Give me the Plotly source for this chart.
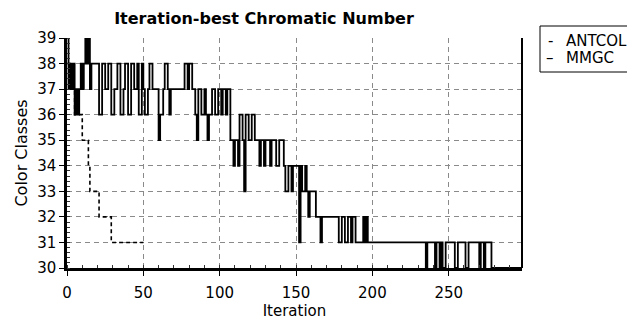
import plotly.graph_objects as go

# ---------------- data ----------------
title_text = "Iteration-best Chromatic Number"
x_label = "Iteration"
y_label = "Color Classes"
series_names = ["ANTCOL", "MMGC"]

antcol = [38, 38, 37, 37, 37, 36, 36, 36, 36, 36,
          35, 35, 35, 35, 34, 33, 33, 33, 33, 33,
          33, 32, 32, 32, 32, 32, 32, 32, 32, 31,
          31, 31, 31, 31, 31, 31, 31, 31, 31, 31,
          31, 31, 31, 31, 31, 31, 31, 31, 31, 31, 31]

mmgc = [39, 37, 38, 37, 38, 36, 37, 36, 37, 38,
        37, 38, 39, 38, 39, 37, 38, 38, 38, 38,
        38, 36, 36, 38, 38, 37, 37, 38, 38, 36,
        36, 37, 37, 38, 38, 36, 36, 37, 38, 38,
        36, 36, 38, 38, 37, 37, 38, 36, 36, 38,
        37, 36, 36, 37, 38, 38, 37, 37, 37, 37,
        35, 36, 36, 37, 38, 38, 37, 36, 37, 37,
        37, 37, 37, 37, 37, 37, 37, 38, 38, 37,
        38, 38, 37, 37, 36, 35, 37, 37, 36, 36,
        37, 36, 35, 36, 36, 37, 37, 36, 36, 37,
        37, 36, 37, 37, 36, 37, 37, 35, 35, 34,
        35, 35, 34, 36, 36, 35, 33, 36, 36, 35,
        35, 36, 36, 35, 35, 35, 34, 35, 35, 34,
        35, 35, 35, 34, 35, 35, 35, 34, 34, 35,
        35, 35, 34, 33, 33, 34, 34, 33, 34, 34,
        34, 34, 31, 34, 33, 33, 34, 33, 32, 33,
        33, 33, 33, 32, 32, 32, 31, 32, 32, 32,
        32, 32, 32, 32, 32, 32, 32, 32, 31, 31,
        32, 32, 31, 31, 32, 32, 31, 32, 32, 31,
        31, 31, 31, 31, 32, 31, 32, 31, 31, 31,
        31, 31, 31, 31, 31, 31, 31, 31, 31, 31,
        31, 31, 31, 31, 31, 31, 31, 31, 31, 31,
        31, 31, 31, 31, 31, 31, 31, 31, 31, 31,
        31, 31, 31, 31, 31, 30, 31, 31, 31, 31,
        31, 30, 31, 31, 30, 31, 30, 30, 31, 31,
        31, 31, 31, 31, 30, 30, 31, 31, 31, 31,
        31, 30, 30, 31, 31, 31, 31, 31, 31, 31,
        30, 31, 31, 30, 31, 31, 31, 31, 30, 30,
        30, 30, 30, 30, 30, 30, 30, 30, 30, 30,
        30, 30, 30, 30, 30, 30, 30, 30, 30]

x_ticks = [0, 50, 100, 150, 200, 250]
y_ticks = [30, 31, 32, 33, 34, 35, 36, 37, 38, 39]

# ---------------- figure ----------------
FONT = "DejaVu Sans"
OFF = 8                      # page body margin
W, H = 627, 313
L, T = 59, 30
PW, PH = 455, 230
R, B = W - L - PW, H - T - PH


def px_x(sx):
    return (sx - OFF - L) / PW


def px_y(sy):
    return (T + PH - (sy - OFF)) / PH


fig = go.Figure()
fig.add_trace(go.Scatter(
    x=list(range(len(antcol))), y=antcol, name=series_names[0], mode="lines",
    line=dict(color="black", width=1.6, dash="4px,3px", shape="hv"),
    showlegend=False))
fig.add_trace(go.Scatter(
    x=list(range(len(mmgc))), y=mmgc, name=series_names[1], mode="lines",
    line=dict(color="black", width=1.8, shape="hv"),
    showlegend=False))

grid = dict(showgrid=True, gridcolor="#8a8a8a", gridwidth=1.2, griddash="5px,4px")

fig.update_xaxes(
    range=[0, 298], tickvals=x_ticks, **grid, automargin=False,
    showline=True, linecolor="black", linewidth=2.5,
    ticks="outside", ticklen=5, tickcolor="black", ticklabelstandoff=4,
    minor=dict(dtick=10, ticks="inside", ticklen=3, tickcolor="#333", showgrid=False),
    tickfont=dict(family=FONT, size=15, color="black"),
    title=dict(text=x_label, font=dict(family=FONT, size=15, color="black"), standoff=4),
    zeroline=False)
fig.update_yaxes(
    range=[30, 39], tickvals=y_ticks, **grid, automargin=False,
    showline=True, linecolor="black", linewidth=2.5,
    ticks="outside", ticklen=5, tickcolor="black",
    minor=dict(dtick=0.2, ticks="inside", ticklen=3, tickcolor="#333", showgrid=False),
    tickfont=dict(family=FONT, size=15, color="black"),
    title=dict(text=y_label, font=dict(family=FONT, size=16, color="black"), standoff=6),
    zeroline=False)

# right border of the plot area
fig.add_shape(type="line", xref="x domain", yref="y domain", x0=1, x1=1, y0=0, y1=1,
              line=dict(color="black", width=2))

# legend box (clipped by the page edge, as in the reference)
fig.add_shape(type="rect", xref="paper", yref="paper",
              x0=px_x(540), x1=px_x(660), y0=px_y(72), y1=px_y(26),
              line=dict(color="black", width=1), fillcolor="white", layer="above")
legend_marks = ["-", "\u2013"]
for i, (mark, name) in enumerate(zip(legend_marks, series_names)):
    yp = px_y(41 + 17 * i)
    fig.add_annotation(xref="paper", yref="paper", x=px_x(550), y=yp,
                       text=mark, showarrow=False, xanchor="center", yanchor="middle",
                       borderpad=0,
                       font=dict(family=FONT, size=15, color="black"))
    fig.add_annotation(xref="paper", yref="paper", x=px_x(565), y=yp,
                       text=name, showarrow=False, xanchor="left", yanchor="middle",
                       borderpad=0,
                       font=dict(family=FONT, size=15, color="black"))

fig.update_layout(
    width=W, height=H,
    margin=dict(l=L, r=R, t=T, b=B, autoexpand=False),
    paper_bgcolor="white", plot_bgcolor="white",
    title=dict(text=title_text, xref="container", yref="container",
               x=(264 - OFF) / W, y=1 - (18 - OFF) / H, xanchor="center", yanchor="middle",
               font=dict(family=FONT, size=16, color="black", weight="bold")),
    showlegend=False)

fig.write_html("out.html")
